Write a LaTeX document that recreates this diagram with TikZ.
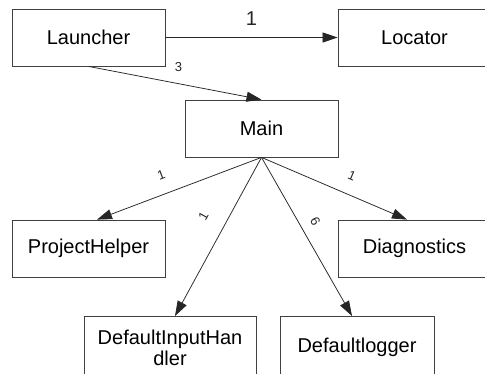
\documentclass[tikz,border=0pt]{standalone}
\usepackage{fontspec}
\setmainfont{Liberation Sans}
\usetikzlibrary{arrows.meta}
\tikzset{
  cls/.style={draw=black!75,line width=0.8pt,minimum width=153pt,minimum height=57pt,inner sep=0pt,
    align=center,font=\fontsize{20}{21}\selectfont},
  assoc/.style={-{Triangle[length=15pt,width=10pt]},line width=0.75pt,black!85},
  mult/.style={inner sep=1pt,font=\fontsize{13}{13}\selectfont}
}
\begin{document}
\begin{tikzpicture}[x=1pt,y=1pt]
  \clip (0,0) rectangle (485,373);
  \fill[white] (0,0) rectangle (485,373);
  % classes
  \node[cls] (launcher) at (88.5,335.5) {Launcher};
  \node[cls] (locator) at (414.5,335.5) {Locator};
  \node[cls] (main) at (261.5,244.5) {Main};
  \node[cls] (helper) at (88.5,124.5) {ProjectHelper};
  \node[cls] (diag) at (414.5,124.5) {Diagnostics};
  \node[cls,minimum width=172pt,minimum height=62pt,anchor=north] (input) at (170,57) {DefaultInputHan\\dler};
  \node[cls,minimum width=154pt,minimum height=62pt,anchor=north] (logger) at (357,57) {Defaultlogger};
  % associations
  \draw[assoc] (launcher) -- node[above=12pt,font=\fontsize{20}{21}\selectfont,inner sep=0pt] {1} (locator);
  \draw[assoc] (launcher.south) -- node[mult,pos=0.52,above=11pt] {3} (main.north);
  \draw[assoc] (main.south) -- node[mult,pos=0.57,sloped,above=13pt] {1} ([xshift=8.5pt]helper.north);
  \draw[assoc] (main.south) -- node[mult,pos=0.57,sloped,above=13pt] {1} ([xshift=-7.5pt]diag.north);
  \draw[assoc] (main.south) -- node[mult,pos=0.44,sloped,above=17pt] {1} ([xshift=5pt]input.north);
  \draw[assoc] (main.south) -- node[mult,pos=0.45,sloped,above=9pt] {6} ([xshift=-5pt]logger.north);
\end{tikzpicture}
\end{document}
